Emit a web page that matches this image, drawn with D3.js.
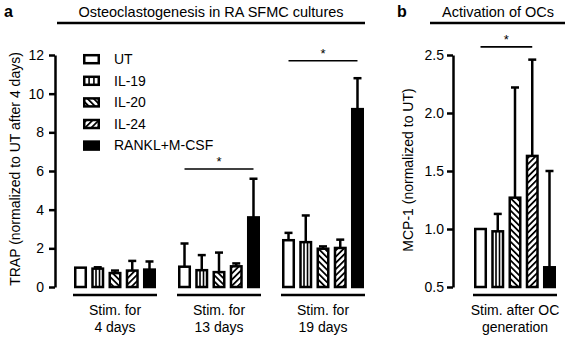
<!DOCTYPE html>
<html><head><meta charset="utf-8">
<script src="https://cdn.jsdelivr.net/npm/d3@7"></script>
<style>body{margin:0;background:#fff;} text{font-family:"Liberation Sans",Arial,sans-serif;fill:#000;}</style>
</head><body>
<script>
// ---- data ----
const series = ["UT","IL-19","IL-20","IL-24","RANKL+M-CSF"];
const trapGroups = ["4 days","13 days","19 days"];
const trapMean4  = [1.0, 0.95, 0.72, 0.85, 0.90];
const trapMean13 = [1.05, 0.87, 0.77, 1.07, 3.60];
const trapMean19 = [2.42, 2.32, 1.98, 2.02, 9.20];
const trapUpper4  = [1.0, 1.02, 0.85, 1.35, 1.32];
const trapUpper13 = [2.25, 1.65, 1.78, 1.22, 5.60];
const trapUpper19 = [2.80, 3.70, 2.10, 2.45, 10.80];
const trapTicks = [0,2,4,6,8,10,12];
const mcpMean  = [1.0, 0.98, 1.27, 1.63, 0.67];
const mcpUpper = [1.0, 1.13, 2.22, 2.46, 1.50];
const mcpTicks = [0.5,1.0,1.5,2.0,2.5];
const mcpGroup = ["Stim. after OC","generation"];
const trapSig = [{g:1, from:0, to:4, level:6.1},{g:2, from:0, to:4, level:11.7}];
const mcpSig = [{from:0, to:3, level:2.57}];

const trapMeans = [trapMean4, trapMean13, trapMean19];
const trapUppers = [trapUpper4, trapUpper13, trapUpper19];

const W = 567, H = 338, SW = 2.5;
const svg = d3.select("body").append("svg").attr("width", W).attr("height", H);
const defs = svg.append("defs");
function diag(id, angle){
  const p = defs.append("pattern").attr("id", id).attr("patternUnits","userSpaceOnUse")
    .attr("width", 4.4).attr("height", 4.4).attr("patternTransform", `rotate(${angle})`);
  p.append("rect").attr("width",4.4).attr("height",4.4).attr("fill","#fff");
  p.append("rect").attr("width",1.8).attr("height",4.4).attr("fill","#000");
}
diag("diagDown", -45);
diag("diagUp", 45);
const fills = ["#fff","#fff","url(#diagDown)","url(#diagUp)","#000"];

function drawBar(g, x, w, y0, y1, si){
  g.append("rect").attr("x", x + SW/2).attr("y", y1).attr("width", w - SW)
    .attr("height", Math.max(0, y0 - y1)).attr("fill", fills[si])
    .attr("stroke","#000").attr("stroke-width", SW);
  if (si === 1){
    const iw = w - SW;
    [1/3, 2/3].forEach(f => {
      g.append("line").attr("x1", x + SW/2 + iw*f).attr("x2", x + SW/2 + iw*f)
        .attr("y1", y1).attr("y2", y0).attr("stroke","#000").attr("stroke-width",1.6);
    });
  }
}
function drawErr(g, cx, yTop, yBar){
  if (Math.abs(yBar - yTop) < 0.5) return;
  g.append("line").attr("x1",cx).attr("x2",cx).attr("y1",yTop).attr("y2",yBar)
    .attr("stroke","#000").attr("stroke-width",SW);
  g.append("line").attr("x1",cx-4).attr("x2",cx+4).attr("y1",yTop).attr("y2",yTop)
    .attr("stroke","#000").attr("stroke-width",SW);
}
function styleAxis(a){
  a.select(".domain").attr("stroke-width", SW);
  a.selectAll(".tick line").attr("stroke-width", SW);
  a.selectAll(".tick text").attr("font-size", 14).attr("font-family","Liberation Sans, Arial, sans-serif");
}

// ---- panel a ----
const yA = d3.scaleLinear().domain([0,12]).range([287,55]);
const xA = d3.scaleBand().domain(trapGroups).range([73,365]).paddingInner(20/104);
const inner = d3.scaleBand().domain(series).range([1,83]).paddingInner(0.245);

const axA = svg.append("g").attr("transform","translate(55,0)")
  .call(d3.axisLeft(yA).tickValues(trapTicks).tickSize(6).tickSizeOuter(0).tickPadding(5));
styleAxis(axA);

const gA = svg.append("g");
trapGroups.forEach((grp, gi) => {
  const gx = xA(grp);
  series.forEach((s, si) => {
    const bx = gx + inner(s), bw = inner.bandwidth();
    drawErr(gA, bx + bw/2, yA(trapUppers[gi][si]), yA(trapMeans[gi][si]));
    drawBar(gA, bx, bw, yA(0), yA(trapMeans[gi][si]), si);
  });
  gA.append("line").attr("x1", gx).attr("x2", gx + xA.bandwidth()).attr("y1",295).attr("y2",295)
    .attr("stroke","#000").attr("stroke-width",SW);
  const cx = gx + xA.bandwidth()/2;
  gA.append("text").attr("x",cx).attr("y",315).attr("text-anchor","middle").attr("font-size",14).text("Stim. for");
  gA.append("text").attr("x",cx).attr("y",332).attr("text-anchor","middle").attr("font-size",14).text(grp);
});
trapSig.forEach(d => {
  const gx = xA(trapGroups[d.g]);
  const x1 = gx + inner(series[d.from]) + inner.bandwidth()/2;
  const x2 = gx + inner(series[d.to]) + inner.bandwidth()/2;
  gA.append("line").attr("x1",x1).attr("x2",x2).attr("y1",yA(d.level)).attr("y2",yA(d.level))
    .attr("stroke","#000").attr("stroke-width",1.6);
  gA.append("text").attr("x",(x1+x2)/2).attr("y",yA(d.level)-3).attr("text-anchor","middle").attr("font-size",13).text("*");
});

// legend
const leg = svg.append("g");
series.forEach((s, i) => {
  const cy = 59 + i*21.6;
  drawBar(leg, 83, 17, cy + 4.2, cy - 3.8, i);
  leg.append("text").attr("x",114).attr("y",cy+5).attr("font-size",14).text(s);
});

// titles
svg.append("text").attr("x",4).attr("y",17).attr("font-size",16).attr("font-weight","bold").text("a");
svg.append("text").attr("x",211).attr("y",17).attr("text-anchor","middle").attr("font-size",14.5).text("Osteoclastogenesis in RA SFMC cultures");
svg.append("line").attr("x1",57).attr("x2",365).attr("y1",23).attr("y2",23).attr("stroke","#000").attr("stroke-width",SW);
svg.append("text").attr("transform","translate(20,169) rotate(-90)").attr("text-anchor","middle").attr("font-size",14)
  .text("TRAP (normalized to UT after 4 days)");

// ---- panel b ----
const yB = d3.scaleLinear().domain([0.5,2.5]).range([287,55]);
const gxB = 473, gwB = 84;
const axB = svg.append("g").attr("transform","translate(453,0)")
  .call(d3.axisLeft(yB).tickValues(mcpTicks).tickFormat(d3.format(".1f")).tickSize(6).tickSizeOuter(0).tickPadding(3));
styleAxis(axB);
const gB = svg.append("g");
series.forEach((s, si) => {
  const bx = gxB + inner(s), bw = inner.bandwidth();
  drawErr(gB, bx + bw/2, yB(mcpUpper[si]), yB(mcpMean[si]));
  drawBar(gB, bx, bw, yB(0.5), yB(mcpMean[si]), si);
});
gB.append("line").attr("x1",gxB).attr("x2",gxB+gwB).attr("y1",295).attr("y2",295).attr("stroke","#000").attr("stroke-width",SW);
gB.append("text").attr("x",gxB+gwB/2).attr("y",315).attr("text-anchor","middle").attr("font-size",14).text(mcpGroup[0]);
gB.append("text").attr("x",gxB+gwB/2).attr("y",332).attr("text-anchor","middle").attr("font-size",14).text(mcpGroup[1]);
mcpSig.forEach(d => {
  const x1 = gxB + inner(series[d.from]) + inner.bandwidth()/2;
  const x2 = gxB + inner(series[d.to]) + inner.bandwidth()/2;
  gB.append("line").attr("x1",x1).attr("x2",x2).attr("y1",yB(d.level)).attr("y2",yB(d.level))
    .attr("stroke","#000").attr("stroke-width",1.6);
  gB.append("text").attr("x",(x1+x2)/2).attr("y",yB(d.level)-3).attr("text-anchor","middle").attr("font-size",13).text("*");
});
svg.append("text").attr("x",397).attr("y",17).attr("font-size",16).attr("font-weight","bold").text("b");
svg.append("text").attr("x",498).attr("y",17).attr("text-anchor","middle").attr("font-size",14.5).text("Activation of OCs");
svg.append("line").attr("x1",430).attr("x2",565).attr("y1",23).attr("y2",23).attr("stroke","#000").attr("stroke-width",SW);
svg.append("text").attr("transform","translate(413,170) rotate(-90)").attr("text-anchor","middle").attr("font-size",14)
  .text("MCP-1 (normalized to UT)");
</script>
</body></html>
